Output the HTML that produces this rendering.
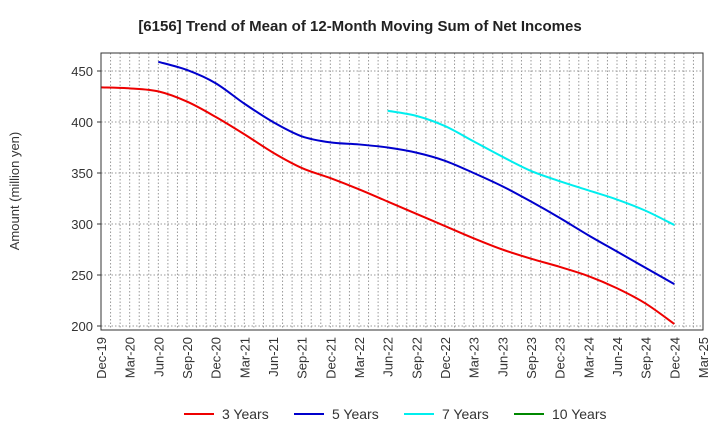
<!DOCTYPE html>
<html><head><meta charset="utf-8"><style>
body{margin:0;background:#fff;font-family:"Liberation Sans",sans-serif;}
</style></head><body>
<svg width="720" height="440" xmlns="http://www.w3.org/2000/svg" font-family="Liberation Sans, sans-serif">
<text x="360" y="31" text-anchor="middle" font-size="15" font-weight="bold" fill="#222">[6156]  Trend of Mean of 12-Month Moving Sum of Net Incomes</text>
<g id="grid"></g>
<g id="series"></g>
<rect x="101" y="53" width="602" height="277" fill="none" stroke="#333" stroke-width="1"/>
<g id="axes"></g>
<text transform="translate(19,191) rotate(-90)" text-anchor="middle" font-size="13" fill="#333">Amount (million yen)</text>
<g id="legend"></g>
</svg>
<script>
const xLabels=["Dec-19","Mar-20","Jun-20","Sep-20","Dec-20","Mar-21","Jun-21","Sep-21","Dec-21","Mar-22","Jun-22","Sep-22","Dec-22","Mar-23","Jun-23","Sep-23","Dec-23","Mar-24","Jun-24","Sep-24","Dec-24","Mar-25"];
const yTicks=[200,250,300,350,400,450];
const s3=[434,433,430,420,405,388,370,355,345,334,322,310,298,286,275,266,258,249,237,222,202];
const s5=[459,451,438,418,400,386,380,378,375,370,362,350,337,322,306,289,273,257,241];
const s7=[411,406,396,381,366,352,342,333,324,313,299];
const s10=[];
const NS="http://www.w3.org/2000/svg";
const L=101,R=703,T=53,B=330;
const x=q=>L+q*(R-L)/63*3;
const xm=m=>L+m*(R-L)/63;
const y=v=>326-(v-200)*51/50;
function mk(t,a,p){const e=document.createElementNS(NS,t);for(const k in a)e.setAttribute(k,a[k]);p.appendChild(e);return e;}
const g=document.getElementById('grid'),ax=document.getElementById('axes'),se=document.getElementById('series'),lg=document.getElementById('legend');
for(let m=1;m<63;m++){const l=mk('line',{x1:xm(m),x2:xm(m),y1:T,y2:B,stroke:'#999','stroke-dasharray':'1.5,2','stroke-width':1},g);
}
yTicks.forEach(v=>{const l=mk('line',{x1:L,x2:R,y1:y(v),y2:y(v),stroke:'#999','stroke-dasharray':'1.5,2','stroke-width':1},g);
});
yTicks.forEach(v=>{const t=mk('text',{x:L-8,y:y(v)+5,'text-anchor':'end','font-size':13,fill:'#333'},ax);t.textContent=v;

mk('line',{x1:L-4,x2:L,y1:y(v),y2:y(v),stroke:'#333'},ax);});
xLabels.forEach((s,i)=>{const t=mk('text',{transform:`translate(${x(i)+5},337) rotate(-90)`,'text-anchor':'end','font-size':13,fill:'#333'},ax);t.textContent=s;
});
function path(arr,start){const p=arr.map((v,i)=>[x(start+i),y(v)]);if(p.length<2)return '';let d=`M${p[0][0]},${p[0][1]}`;
for(let i=0;i<p.length-1;i++){const p0=p[i-1]||p[i],p1=p[i],p2=p[i+1],p3=p[i+2]||p2;
d+=`C${p1[0]+(p2[0]-p0[0])/6},${p1[1]+(p2[1]-p0[1])/6} ${p2[0]-(p3[0]-p1[0])/6},${p2[1]-(p3[1]-p1[1])/6} ${p2[0]},${p2[1]}`;}return d;}
const ser=[[s3,0,'#e00','3 Years','line-3-years'],[s5,2,'#00c','5 Years','line-5-years'],[s7,10,'#0ee','7 Years','line-7-years'],[s10,20,'#080','10 Years','line-10-years']];
ser.forEach(([a,st,c,n,dn])=>{const d=path(a,st);if(d){const p=mk('path',{d,fill:'none',stroke:c,'stroke-width':2},se);
}});
const lx=[184,294,404,514];
ser.forEach(([a,st,c,n],i)=>{mk('line',{x1:lx[i],x2:lx[i]+30,y1:414,y2:414,stroke:c,'stroke-width':2},lg);
const t=mk('text',{x:lx[i]+38,y:419,'font-size':14,fill:'#333'},lg);t.textContent=n;
});
</script>
</body></html>
